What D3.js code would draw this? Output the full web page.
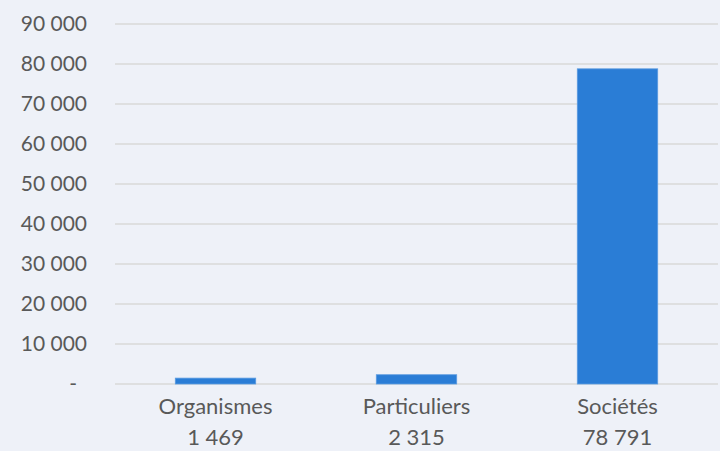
<!DOCTYPE html>
<html>
<head>
<meta charset="utf-8">
<script src="https://cdn.jsdelivr.net/npm/d3@7"></script>
<style>
  html, body { margin: 0; padding: 0; background: #eef1f8; }
  text { font-family: Lato, "Open Sans", sans-serif; fill: #595959; }
</style>
</head>
<body>
<div id="chart"></div>
<script>
var categories = ['Organismes', 'Particuliers', 'Sociétés'];
var values = [1469, 2315, 78791];
var value_labels = ['1 469', '2 315', '78 791'];
var y_ticks = [0, 10000, 20000, 30000, 40000, 50000, 60000, 70000, 80000, 90000];

var bar_color = '#2a7dd6';
var grid_color = '#d9d9d9';

var width = 720, height = 451;
var plot = {left: 115, right: 718, top: 24, bottom: 384};

var svg = d3.select('#chart').append('svg')
    .attr('width', width)
    .attr('height', height);

svg.append('rect').attr('width', width).attr('height', height).attr('fill', '#eef1f8');

var x = d3.scaleBand()
    .domain(categories)
    .range([plot.left, plot.right])
    .paddingInner(0.6)
    .paddingOuter(0.3);

var y = d3.scaleLinear()
    .domain([0, 90000])
    .range([plot.bottom, plot.top]);

// gridlines
svg.append('g').selectAll('line')
    .data(y_ticks)
    .join('line')
    .attr('x1', plot.left)
    .attr('x2', plot.right)
    .attr('y1', function(d) { return y(d); })
    .attr('y2', function(d) { return y(d); })
    .attr('stroke', grid_color)
    .attr('stroke-width', 1.5);

// y labels
svg.append('g').selectAll('text')
    .data(y_ticks)
    .join('text')
    .attr('x', function(d) { return d === 0 ? 77 : 87; })
    .attr('y', function(d) { return y(d); })
    .attr('dy', '0.35em')
    .attr('text-anchor', 'end')
    .style('font-size', '21px')
    .text(function(d) { return d === 0 ? '-' : d3.format(',')(d).replace(/,/g, ' '); });

// bars
svg.append('g').selectAll('rect')
    .data(values)
    .join('rect')
    .attr('x', function(d, i) { return x(categories[i]); })
    .attr('width', x.bandwidth())
    .attr('y', function(d) { return y(d); })
    .attr('height', function(d) { return y(0) - y(d); })
    .attr('fill', bar_color)
    .attr('stroke', '#5a9be0')
    .attr('stroke-width', 0.8);

// category labels
svg.append('g').selectAll('text')
    .data(categories)
    .join('text')
    .attr('x', function(d) { return x(d) + x.bandwidth() / 2; })
    .attr('y', 406)
    .attr('dy', '0.35em')
    .attr('text-anchor', 'middle')
    .style('font-size', '22px')
    .text(function(d) { return d; });

svg.append('g').selectAll('text')
    .data(value_labels)
    .join('text')
    .attr('x', function(d, i) { return x(categories[i]) + x.bandwidth() / 2; })
    .attr('y', 437)
    .attr('dy', '0.35em')
    .attr('text-anchor', 'middle')
    .style('font-size', '22px')
    .text(function(d) { return d; });
</script>
</body>
</html>
